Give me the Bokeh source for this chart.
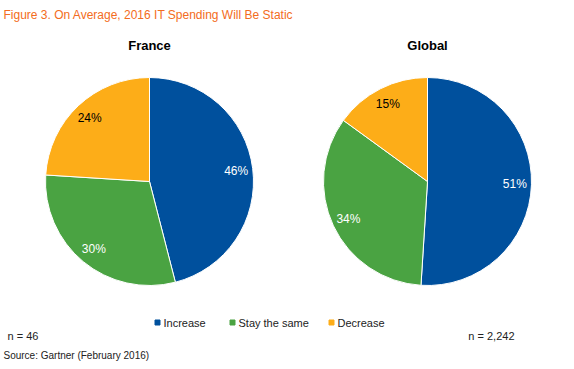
import math
from bokeh.plotting import figure
from bokeh.models import Range1d, ColumnDataSource
from bokeh.core.properties import value
from bokeh.embed import file_html
from bokeh.resources import INLINE

# ---- data ----
categories = ["Increase", "Stay the same", "Decrease"]
france_values = [46, 30, 24]
global_values = [51, 34, 15]
pie_titles = ["France", "Global"]
sample_sizes = ["n = 46", "n = 2,242"]
title_text = "Figure 3. On Average, 2016 IT Spending Will Be Static"
source_text = "Source: Gartner (February 2016)"

# ---- style ----
colors = ["#00509D", "#4AA342", "#FDAD18"]
label_colors = ["white", "white", "black"]
FONT = value("Liberation Sans")
W, H = 574, 369
IMG_H = 369


def Y(y_img):
    return IMG_H - y_img


p = figure(width=W, height=H, output_backend="svg", toolbar_location=None,
           x_range=Range1d(0, W), y_range=Range1d(0, H),
           min_border=0, outline_line_color=None)
p.axis.visible = False
p.grid.visible = False
p.background_fill_color = "white"
p.border_fill_color = "white"

R = 104
centers = [(149, Y(181)), (427, Y(181))]

for (cx, cy), vals, name in zip(centers, [france_values, global_values], pie_titles):
    total = float(sum(vals))
    cum = 0.0
    starts, ends, lx, ly, labels = [], [], [], [], []
    for v in vals:
        a0 = math.pi / 2 - (cum + v) / total * 2 * math.pi
        a1 = math.pi / 2 - cum / total * 2 * math.pi
        starts.append(a0)
        ends.append(a1)
        mid = (a0 + a1) / 2
        lx.append(cx + 0.84 * R * math.cos(mid))
        ly.append(cy + 0.84 * R * math.sin(mid))
        labels.append("%d%%" % v)
        cum += v
    src = ColumnDataSource(dict(start=starts, end=ends, color=colors,
                                lx=lx, ly=ly, label=labels, lc=label_colors))
    p.wedge(x=cx, y=cy, radius=R, start_angle="start", end_angle="end",
            fill_color="color", line_color="white", line_width=1, source=src)
    p.text(x="lx", y="ly", text="label", text_color="lc", text_font=FONT,
           text_font_size="12px", text_align="center", text_baseline="middle",
           source=src)
    p.text(x=[cx], y=[Y(45)], text=[name], text_font=FONT, text_font_size="13px",
           text_font_style="bold", text_align="center", text_baseline="middle",
           text_color="black")

# title
p.text(x=[3], y=[Y(14)], text=[title_text], text_font=FONT, text_font_size="12px",
       text_color="#F36C21", text_align="left", text_baseline="middle")

# legend
leg_x = [157, 232, 331]
p.scatter(x=leg_x, y=[Y(322)] * 3, marker="square", size=5, color=colors)
p.text(x=[x + 6 for x in leg_x], y=[Y(322)] * 3, text=categories, text_font=FONT,
       text_font_size="11px", text_color="#222222", text_align="left",
       text_baseline="middle")

# sample sizes
p.text(x=[7], y=[Y(335)], text=[sample_sizes[0]], text_font=FONT, text_font_size="11px",
       text_color="#222222", text_align="left", text_baseline="middle")
p.text(x=[514], y=[Y(335)], text=[sample_sizes[1]], text_font=FONT, text_font_size="11px",
       text_color="#222222", text_align="right", text_baseline="middle")

# source
p.text(x=[3], y=[Y(355)], text=[source_text], text_font=FONT, text_font_size="10px",
       text_color="#222222", text_align="left", text_baseline="middle")

open("out.html", "w").write(file_html(p, INLINE))
